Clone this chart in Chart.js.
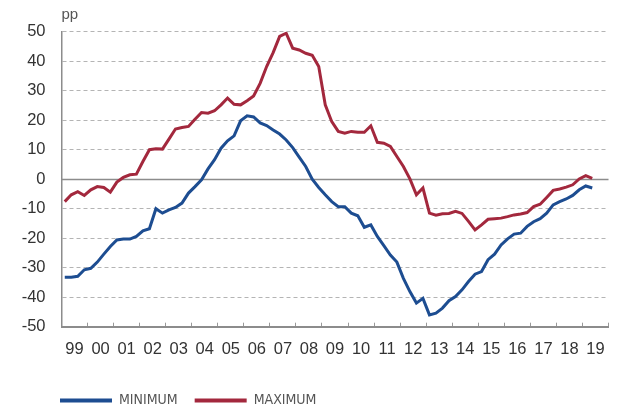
<!DOCTYPE html>
<html>
<head>
<meta charset="utf-8">
<script src="https://cdn.jsdelivr.net/npm/chart.js@4.4.1/dist/chart.umd.min.js"></script>
<style>
  body { margin: 0; background: #fff; }
  #wrap { width: 622px; height: 409px; }
</style>
</head>
<body>
<div id="wrap"><canvas id="chart"></canvas></div>
<script>
// year labels, one per 4 quarters (1999 - 2019)
const yearLabels = ['99', '00', '01', '02', '03', '04', '05', '06', '07', '08', '09',
  '10', '11', '12', '13', '14', '15', '16', '17', '18', '19'];

// quarterly values, 1999Q1 .. 2019Q2 (pp)
const minimum = [
  -33.2, -33.2, -32.9, -30.7, -30.2, -28.1, -25.4, -22.8, -20.6, -20.3,
  -20.3, -19.4, -17.5, -16.8, -10, -11.5, -10.4, -9.6, -8.1, -4.7,
  -2.5, -0.2, 3.5, 6.6, 10.5, 13, 14.7, 19.8, 21.5, 21.1,
  19.1, 18.2, 16.7, 15.3, 13.3, 10.7, 7.5, 4.3, 0, -2.8,
  -5.3, -7.6, -9.3, -9.3, -11.5, -12.4, -16.3, -15.5, -19.4, -22.5,
  -25.7, -28.1, -33.6, -38.1, -42, -40.4, -46, -45.4, -43.7, -41.2,
  -39.8, -37.5, -34.7, -32.2, -31.3, -27.3, -25.4, -22.3, -20.2, -18.6,
  -18.3, -16, -14.4, -13.4, -11.5, -8.7, -7.6, -6.7, -5.5, -3.6,
  -2.3, -3
];
const maximum = [
  -7.6, -5.3, -4.2, -5.5, -3.6, -2.5, -2.8, -4.4, -1, 0.6,
  1.5, 1.7, 6, 10, 10.3, 10.2, 13.6, 17, 17.5, 17.9,
  20.3, 22.6, 22.4, 23.2, 25.2, 27.5, 25.4, 25.2, 26.6, 28.2,
  32.5, 38.2, 42.9, 48.4, 49.5, 44.4, 43.8, 42.7, 42, 38.2,
  25.2, 19.5, 16.2, 15.6, 16.2, 15.9, 15.9, 18.1, 12.5, 12.2,
  11.1, 7.7, 4.3, 0.1, -5.3, -3, -11.5, -12.2, -11.7, -11.6,
  -10.9, -11.6, -14.3, -17.2, -15.5, -13.6, -13.4, -13.2, -12.7, -12.1,
  -11.8, -11.3, -9.3, -8.5, -6.2, -3.8, -3.3, -2.7, -1.9, 0.1,
  1.2, 0.3
];

const BLUE = '#1d4d91';
const RED = '#a3283d';

// quarter i sits in the middle of its slot on the x scale
const toPoints = (arr) => arr.map((v, i) => ({ x: i + 0.5, y: v }));

// solid line at zero
const zeroLine = {
  id: 'zeroLine',
  beforeDatasetsDraw(chart) {
    const { ctx, chartArea, scales } = chart;
    const py = Math.round(scales.y.getPixelForValue(0)) + 0.5;
    ctx.save();
    ctx.strokeStyle = '#8c8c8c';
    ctx.lineWidth = 1.5;
    ctx.beginPath();
    ctx.moveTo(chartArea.left, py);
    ctx.lineTo(chartArea.right, py);
    ctx.stroke();
    ctx.restore();
  }
};

Chart.defaults.font.family = "'Liberation Sans', Arial, sans-serif";

const ctx = document.getElementById('chart').getContext('2d');
const chart = new Chart(ctx, {
  type: 'line',
  data: {
    datasets: [
      { label: 'MINIMUM', data: toPoints(minimum), borderColor: BLUE, backgroundColor: BLUE, borderWidth: 3 },
      { label: 'MAXIMUM', data: toPoints(maximum), borderColor: RED, backgroundColor: RED, borderWidth: 3 }
    ]
  },
  options: {
    responsive: true,
    maintainAspectRatio: false,
    animation: false,
    elements: { point: { radius: 0 }, line: { tension: 0 } },
    layout: { padding: { left: 43, right: 1, top: 0, bottom: 0 } },
    scales: {
      x: {
        type: 'linear',
        min: 0,
        max: yearLabels.length * 4,
        afterBuildTicks: (axis) => {
          axis.ticks = yearLabels.map((_, k) => ({ value: k * 4 + 2 }));
        },
        afterFit: (axis) => { axis.height = 49.8; },
        ticks: {
          autoSkip: false,
          maxRotation: 0,
          padding: 17,
          color: '#333',
          font: { size: 16.5 },
          callback: (v) => yearLabels[(v - 2) / 4]
        },
        grid: { offset: true, drawOnChartArea: false, tickLength: -4, color: '#999', lineWidth: 1 },
        border: { color: '#8c8c8c', width: 2 }
      },
      y: {
        min: -50,
        max: 50,
        afterFit: (axis) => { axis.width = 18.5; },
        // mirrored + far so the labels are not clipped to the narrow axis box
        ticks: {
          stepSize: 10,
          mirror: true,
          crossAlign: 'far',
          padding: -39.8,
          color: '#333',
          font: { size: 16.5 }
        },
        grid: {
          drawTicks: false,
          color: (c) => (c.tick && (c.tick.value === 0 || c.tick.value === -50)) ? 'rgba(0,0,0,0)' : '#b4b4b4'
        },
        border: { color: '#8c8c8c', width: 1.5, dash: [4, 3] }
      }
    },
    plugins: {
      title: {
        display: true,
        text: 'pp',
        align: 'start',
        fullSize: false,
        color: '#555',
        font: { size: 15, weight: 'normal' },
        padding: { top: 6, bottom: 7.7 }
      },
      legend: {
        position: 'bottom',
        align: 'start',
        maxHeight: 32.5,
        labels: {
          boxWidth: 52,
          boxHeight: 4,
          padding: 17,
          color: '#555',
          font: { family: "'Liberation Sans Narrow', 'DejaVu Sans Condensed', sans-serif", size: 14 },
          generateLabels: (ch) => Chart.defaults.plugins.legend.labels.generateLabels(ch)
            .map((l) => ({ ...l, lineWidth: 0 }))
        }
      },
      tooltip: { enabled: false }
    }
  },
  plugins: [zeroLine]
});
</script>
</body>
</html>
